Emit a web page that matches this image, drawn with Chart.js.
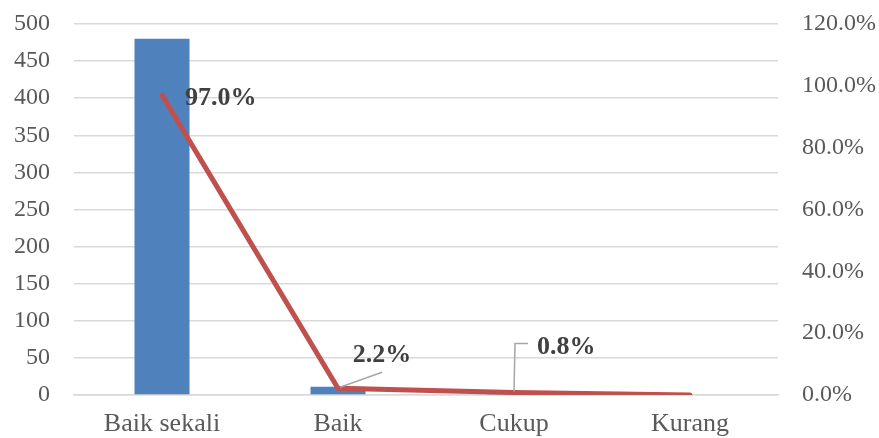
<!DOCTYPE html>
<html>
<head>
<meta charset="utf-8">
<script src="https://cdn.jsdelivr.net/npm/chart.js@4/dist/chart.umd.min.js"></script>
<style>
html,body{margin:0;padding:0;background:#fff;}
#wrap{width:879px;height:438px;position:relative;}
</style>
</head>
<body>
<div id="wrap"><canvas id="c" width="879" height="438"></canvas></div>
<script>
const categories = ["Baik sekali", "Baik", "Cukup", "Kurang"];
const counts = [480, 11, 4, 0];
const percents = [97.0, 2.2, 0.8, 0.0];
const percentLabels = ["97.0%", "2.2%", "0.8%", null];

const labelPlugin = {
  id: 'pctLabels',
  afterDatasetsDraw(chart) {
    const ctx = chart.ctx;
    const meta = chart.getDatasetMeta(1);
    ctx.save();
    ctx.font = 'bold 26px "Liberation Serif", "Times New Roman", serif';
    ctx.fillStyle = '#404040';
    ctx.textBaseline = 'middle';
    meta.data.forEach((pt, i) => {
      const txt = percentLabels[i];
      if (!txt) return;
      const x = pt.x, y = pt.y;
      ctx.strokeStyle = '#a6a6a6';
      ctx.lineWidth = 1.5;
      if (i === 0) {
        ctx.textAlign = 'left';
        ctx.fillText(txt, x + 23, y + 3);
      } else if (i === 1) {
        ctx.beginPath();
        ctx.moveTo(x + 2, y - 1);
        ctx.lineTo(x + 44, y - 16);
        ctx.stroke();
        ctx.textAlign = 'center';
        ctx.fillText(txt, x + 44, y - 33);
      } else if (i === 2) {
        ctx.beginPath();
        ctx.moveTo(x, y - 1);
        ctx.lineTo(x + 1, y - 49);
        ctx.lineTo(x + 14, y - 49);
        ctx.stroke();
        ctx.textAlign = 'left';
        ctx.fillText(txt, x + 23, y - 45);
      }
    });
    ctx.restore();
  }
};

const tickFont = { family: '"Liberation Serif", "Times New Roman", serif', size: 24 };
const xFont = { family: '"Liberation Serif", "Times New Roman", serif', size: 26 };

new Chart(document.getElementById('c'), {
  type: 'bar',
  data: {
    labels: categories,
    datasets: [
      {
        type: 'bar',
        data: counts,
        backgroundColor: '#4F81BD',
        yAxisID: 'y',
        categoryPercentage: 1,
        barPercentage: 0.3125,
        order: 2
      },
      {
        type: 'line',
        data: percents,
        borderColor: '#C0504D',
        borderWidth: 5,
        pointRadius: 0,
        tension: 0,
        yAxisID: 'y1',
        order: 1,
        borderCapStyle: 'round'
      }
    ]
  },
  options: {
    responsive: false,
    animation: false,
    layout: { padding: { top: 24, bottom: 0, left: 0, right: 0 } },
    plugins: { legend: { display: false }, tooltip: { enabled: false } },
    scales: {
      x: {
        grid: { display: false },
        border: { display: true, color: '#d9d9d9', width: 1.5 },
        ticks: { color: '#595959', font: xFont, padding: 6, maxRotation: 0 },
        afterFit: s => { s.height = 43; }
      },
      y: {
        position: 'left',
        min: 0, max: 500,
        ticks: { stepSize: 50, color: '#595959', font: tickFont, padding: 24 },
        grid: { color: '#d9d9d9', lineWidth: 1.5, drawTicks: false },
        border: { display: false },
        afterFit: s => { s.width = 74; s.paddingTop = 0; s.paddingBottom = 0; }
      },
      y1: {
        position: 'right',
        min: 0, max: 120,
        ticks: { stepSize: 20, color: '#595959', font: tickFont, padding: 24,
          callback: v => v.toFixed(1) + '%' },
        grid: { display: false, drawTicks: false },
        border: { display: false },
        afterFit: s => { s.width = 101; s.paddingTop = 0; s.paddingBottom = 0; }
      }
    }
  },
  plugins: [labelPlugin]
});
</script>
</body>
</html>
